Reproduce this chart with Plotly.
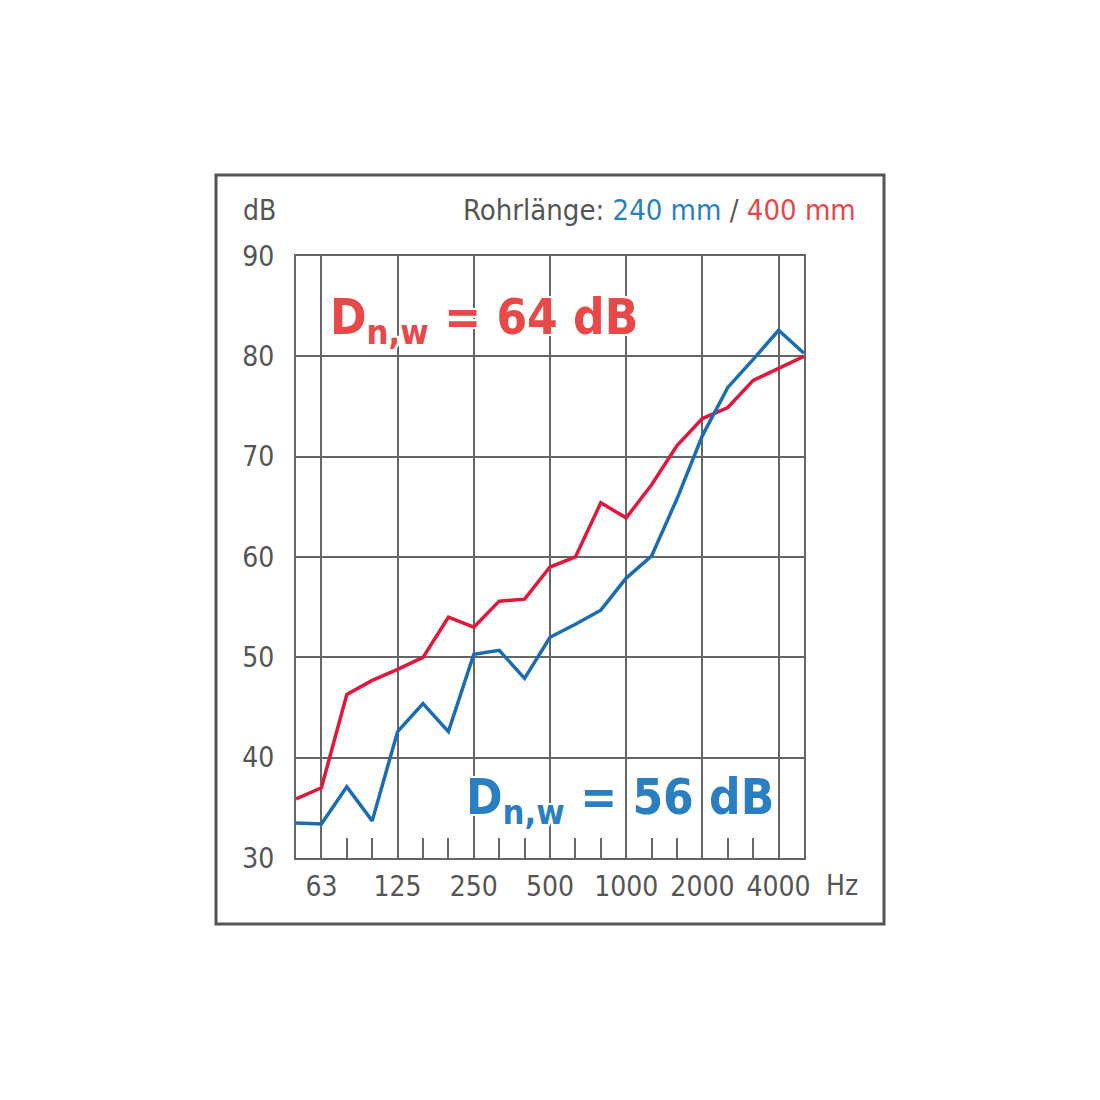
import plotly.graph_objects as go

# third-octave bands (Hz)
bands = ["50", "63", "80", "100", "125", "160", "200", "250", "315", "400", "500",
         "630", "800", "1000", "1250", "1600", "2000", "2500", "3150", "4000", "5000"]
major_labels = ["63", "125", "250", "500", "1000", "2000", "4000"]

# sound level difference (dB)
red_400mm = [35.9, 37.0, 46.3, 47.7, 48.8, 50.0, 54.0, 53.0, 55.6, 55.8, 59.0,
             60.0, 65.4, 63.9, 67.2, 71.1, 73.8, 74.9, 77.6, 78.8, 80.0]
blue_240mm = [33.5, 33.4, 37.1, 33.7, 42.6, 45.4, 42.6, 50.3, 50.7, 47.9, 52.0,
              53.3, 54.7, 57.9, 60.1, 65.8, 72.1, 76.9, 79.7, 82.6, 80.3]

y_ticks = [30, 40, 50, 60, 70, 80, 90]

RED_LINE = "#e3173c"
BLUE_LINE = "#1b6db3"
RED_TXT = "#e84848"
BLUE_TXT = "#2a7fc2"
GRID = "#666666"
TXT = "#555555"
FONT = "DejaVu Sans Condensed, Roboto, Arial, sans-serif"

idx = list(range(len(bands)))
major_idx = [bands.index(b) for b in major_labels]
minor_idx = [i for i in idx[1:-1] if i not in major_idx]

fig = go.Figure()
fig.add_trace(go.Scatter(x=idx, y=red_400mm, mode="lines",
                         line=dict(color=RED_LINE, width=3.5), name="400 mm"))
fig.add_trace(go.Scatter(x=idx, y=blue_240mm, mode="lines",
                         line=dict(color=BLUE_LINE, width=3.5), name="240 mm"))

OFF = 8  # page body offset
W = H = 1100
L, R, T, B = 296 - OFF, 804 - OFF, 256 - OFF, 858 - OFF


def px(xp):
    return (xp - OFF - L) / (R - L)


def py(yp):
    return (B - (yp - OFF)) / (B - T)


halo = "-2px -2px 0 #fff, 2px -2px 0 #fff, -2px 2px 0 #fff, 2px 2px 0 #fff, 0 0 3px #fff"
BIG = 49

annotations = [
    dict(x=px(278), y=py(210), xref="paper", yref="paper", text="dB", showarrow=False,
         xanchor="right", yanchor="middle", font=dict(family=FONT, size=28, color=TXT)),
    dict(x=px(858), y=py(210), xref="paper", yref="paper",
         text=f"Rohrlänge: <span style='color:{BLUE_TXT}'>240 mm</span> / "
              f"<span style='color:{RED_TXT}'>400 mm</span>",
         showarrow=False, xanchor="right", yanchor="middle",
         font=dict(family=FONT, size=29, color=TXT)),
    dict(x=px(824), y=py(885), xref="paper", yref="paper", text="Hz", showarrow=False,
         xanchor="left", yanchor="middle", font=dict(family=FONT, size=28, color=TXT)),
    dict(x=1.25, y=83.6, xref="x", yref="y", text="D<sub>n,w</sub> = 64 dB", showarrow=False,
         xanchor="left", yanchor="middle",
         font=dict(family=FONT, size=BIG, color=RED_TXT, weight="bold", shadow=halo)),
    dict(x=6.6, y=35.7, xref="x", yref="y", text="D<sub>n,w</sub> = 56 dB", showarrow=False,
         xanchor="left", yanchor="middle",
         font=dict(family=FONT, size=BIG, color=BLUE_TXT, weight="bold", shadow=halo)),
]

shapes = [
    dict(type="rect", xref="paper", yref="paper",
         x0=px(216), x1=px(884), y0=py(924), y1=py(175),
         line=dict(color="#555555", width=3), fillcolor="rgba(0,0,0,0)", layer="below"),
]

fig.update_layout(
    width=W - OFF, height=H - OFF,
    margin=dict(l=L, r=W - OFF - R, t=T, b=H - OFF - B, pad=0),
    paper_bgcolor="white", plot_bgcolor="white",
    showlegend=False,
    annotations=annotations,
    shapes=shapes,
    font=dict(family=FONT, color=TXT),
)
fig.update_xaxes(
    range=[0, len(bands) - 1], tickmode="array", tickvals=major_idx, ticktext=major_labels,
    showgrid=True, gridcolor=GRID, gridwidth=2, zeroline=False,
    showline=True, linecolor=GRID, linewidth=2, mirror=True,
    ticks="", tickfont=dict(family=FONT, size=28, color=TXT), ticklabelstandoff=2,
    minor=dict(tickmode="array", tickvals=minor_idx, ticks="inside", ticklen=20,
               tickwidth=2, tickcolor=GRID, showgrid=False),
    automargin=False, fixedrange=True,
)
fig.update_yaxes(
    range=[30, 90], tickmode="array", tickvals=y_ticks,
    showgrid=True, gridcolor=GRID, gridwidth=2, zeroline=False,
    showline=True, linecolor=GRID, linewidth=2, mirror=True,
    ticks="", tickfont=dict(family=FONT, size=28, color=TXT), ticklabelstandoff=14,
    automargin=False, fixedrange=True,
)

fig.write_html("out.html")
